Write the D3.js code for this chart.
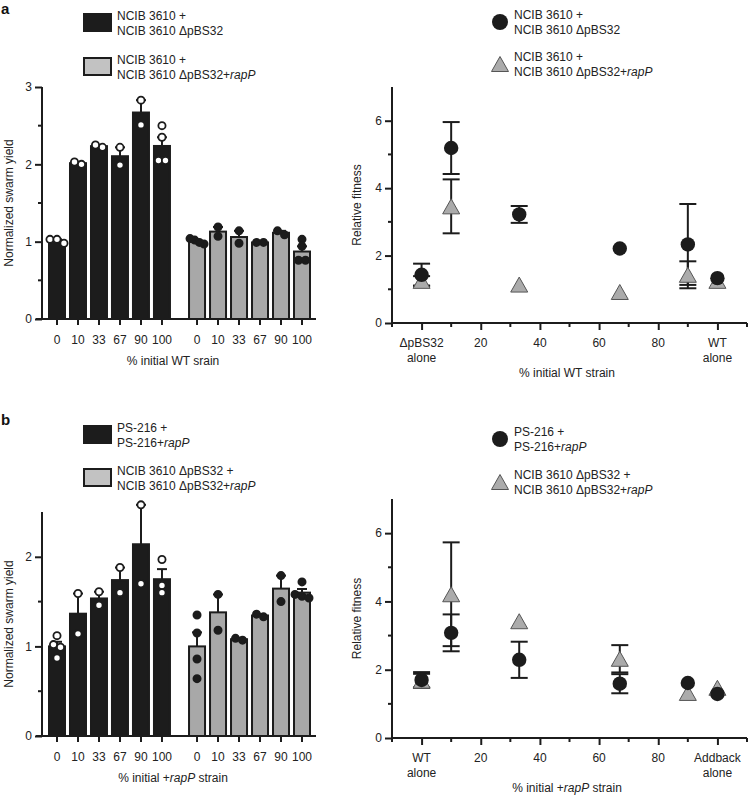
<!DOCTYPE html>
<html>
<head>
<meta charset="utf-8">
<script src="https://cdn.jsdelivr.net/npm/d3@7"></script>
<style>
  html, body { margin: 0; padding: 0; background: #fff; }
  svg { display: block; }
  text { font-family: "Liberation Sans", Arial, Helvetica, sans-serif; fill: #222; }
</style>
</head>
<body>
<svg id="chart" width="748" height="799"></svg>
<script>
// ---------------- DATA ----------------
const barCategories = ["0", "10", "33", "67", "90", "100"];

// panel a, left: normalized swarm yield (replicate points)
const aBlackPoints = [[1.03, 0.98, 1.03], [2.0, 2.03], [2.22, 2.25], [2.22, 1.99], [2.83, 2.51], [2.50, 2.35, 2.05, 2.05]];
const aGrayPoints  = [[1.02, 0.97, 0.99, 1.04], [1.19, 1.07], [1.14, 0.98], [0.99, 0.99], [1.09, 1.14], [1.03, 0.94, 0.76, 0.76]];
// panel b, left
const bBlackPoints = [[1.12, 1.02, 0.99, 0.87], [1.59, 1.14], [1.61, 1.46], [1.88, 1.60], [2.58, 1.70], [1.97, 1.68, 1.60]];
const bGrayPoints  = [[1.35, 1.15, 0.86, 0.64], [1.58, 1.18], [1.07, 1.09], [1.33, 1.36], [1.79, 1.50], [1.72, 1.58, 1.56, 1.54]];

const aBarTicks = [0, 1, 2, 3];
const bBarTicks = [0, 1, 2];

// right panels: relative fitness (mean, error; 0 = error bar hidden within symbol)
const fitnessX = [0, 10, 33, 67, 90, 100];
const aCircleMean = [1.43, 5.19, 3.22, 2.21, 2.33, 1.33];
const aCircleErr  = [0.33, 0.77, 0.25, 0, 1.20, 0];
const aTriMean    = [1.25, 3.46, 1.14, 0.92, 1.43, 1.25];
const aTriErr     = [0.14, 0.80, 0, 0, 0.40, 0];

const bCircleMean = [1.70, 3.08, 2.29, 1.59, 1.61, 1.29];
const bCircleErr  = [0.23, 0.54, 0.53, 0.28, 0, 0];
const bTriMean    = [1.68, 4.21, 3.42, 2.32, 1.32, 1.47];
const bTriErr     = [0.20, 1.52, 0, 0.40, 0, 0];

const fitnessYTicks = [0, 2, 4, 6];
const fitnessXTicks = [0, 20, 40, 60, 80, 100];
const aEndLabels = [["\u0394pBS32", "alone"], ["WT", "alone"]];
const bEndLabels = [["WT", "alone"], ["Addback", "alone"]];

// ---------------- DRAW ----------------
const svg = d3.select("#chart");
const INK = "#1c1c1c";
const BAR_GRAY = "#a8a8a8";
const LEG_GRAY = "#c2c2c2";
const TRI_GRAY = "#ababab";
const FS = "12px";

function richText(sel, parts) {
  parts.forEach(p => {
    const t = sel.append("tspan").text(p[0]);
    if (p[1]) t.style("font-style", "italic");
  });
}

function panelLabel(txt, y) {
  svg.append("text").attr("x", 1).attr("y", y).text(txt)
    .style("font-size", "15px").style("font-weight", "bold").style("fill", "#111");
}

function triPath(cx, cy, w, h) {
  return `M${cx},${cy - h / 2}L${cx + w / 2},${cy + h / 2}L${cx - w / 2},${cy + h / 2}Z`;
}

function barLegend(top, entries) {
  const g = svg.append("g");
  entries.forEach(e => {
    const y0 = top + e.dy;
    g.append("rect").attr("x", 84).attr("y", y0).attr("width", 27).attr("height", 17)
      .attr("fill", e.fill).attr("stroke", INK).attr("stroke-width", 2);
    e.lines.forEach((ln, j) => {
      const t = g.append("text").attr("x", 117).attr("y", y0 + 6 + j * 14.5).style("font-size", FS);
      richText(t, ln);
    });
  });
}

function markerLegend(top, entries) {
  const g = svg.append("g");
  entries.forEach(e => {
    const cy = top + e.dy;
    if (e.shape === "circle") {
      g.append("circle").attr("cx", 500).attr("cy", cy).attr("r", 8).attr("fill", INK);
    } else {
      g.append("path").attr("d", triPath(500, cy, 17, 15)).attr("fill", TRI_GRAY)
        .attr("stroke", "#555").attr("stroke-width", 1);
    }
    e.lines.forEach((ln, j) => {
      const t = g.append("text").attr("x", 514).attr("y", cy - 3 + j * 14.5).style("font-size", FS);
      richText(t, ln);
    });
  });
}

function swarmOffsets(vals, y) {
  const idx = vals.map((v, i) => i).sort((a, b) => vals[b] - vals[a]);
  const groups = [];
  idx.forEach(i => {
    const last = groups[groups.length - 1];
    if (last && Math.abs(y(vals[last[last.length - 1]]) - y(vals[i])) < 6.5) last.push(i);
    else groups.push([i]);
  });
  const off = new Array(vals.length).fill(0);
  groups.forEach(gr => {
    const k = gr.length;
    const step = k > 1 ? Math.min(7, 14 / (k - 1)) : 0;
    gr.forEach((i, j) => { off[i] = (j - (k - 1) / 2) * step; });
  });
  return off;
}

function styleYAxis(ya, y0, yTop) {
  ya.select(".domain").attr("stroke", INK).attr("stroke-width", 2).attr("d", `M0,${y0}V${yTop}`);
  ya.selectAll(".tick line").attr("stroke", INK).attr("stroke-width", 2);
  ya.selectAll(".tick text").attr("x", -10).style("font-size", FS)
    .style("font-family", "Liberation Sans, Arial, sans-serif").attr("fill", "#222");
}

function barPanel(cfg) {
  const g = svg.append("g");
  const x = d3.scaleLinear().domain([0, 11.67]).range([57, 302]);
  const y = d3.scaleLinear().domain([0, cfg.yMax]).range([cfg.y0, cfg.yTop]);
  const groups = [
    { pts: cfg.black, offset: 0, fill: INK, ptFill: "#fff" },
    { pts: cfg.gray, offset: 6.67, fill: BAR_GRAY, ptFill: INK }
  ];
  const bw = 16;
  groups.forEach(gr => {
    gr.pts.forEach((pts, i) => {
      const cx = x(i + gr.offset);
      const m = d3.mean(pts);
      const sem = d3.deviation(pts) / Math.sqrt(pts.length);
      g.append("line").attr("x1", cx).attr("x2", cx).attr("y1", y(m)).attr("y2", y(m + sem))
        .attr("stroke", INK).attr("stroke-width", 2);
      g.append("line").attr("x1", cx - 5).attr("x2", cx + 5).attr("y1", y(m + sem)).attr("y2", y(m + sem))
        .attr("stroke", INK).attr("stroke-width", 2);
      g.append("rect").attr("x", cx - bw / 2).attr("y", y(m)).attr("width", bw).attr("height", y(0) - y(m))
        .attr("fill", gr.fill).attr("stroke", INK).attr("stroke-width", 2);
      const off = swarmOffsets(pts, y);
      pts.forEach((v, j) => {
        g.append("circle").attr("cx", cx + off[j]).attr("cy", y(v)).attr("r", 3.6)
          .attr("fill", gr.ptFill).attr("stroke", INK).attr("stroke-width", 1.8);
      });
      g.append("line").attr("x1", cx).attr("x2", cx).attr("y1", cfg.y0).attr("y2", cfg.y0 + 6)
        .attr("stroke", INK).attr("stroke-width", 2);
      g.append("text").attr("x", cx).attr("y", cfg.y0 + 25).attr("text-anchor", "middle")
        .style("font-size", FS).text(barCategories[i]);
    });
  });
  g.append("line").attr("x1", 36).attr("x2", 316).attr("y1", cfg.y0).attr("y2", cfg.y0)
    .attr("stroke", INK).attr("stroke-width", 2);
  const ya = g.append("g").attr("transform", "translate(42,0)")
    .call(d3.axisLeft(y).tickValues(cfg.yTicks).tickSize(7).tickFormat(d3.format("d")));
  styleYAxis(ya, cfg.y0, cfg.yTop);
  d3.range(0.5, cfg.yMax, 1).forEach(v => {
    g.append("line").attr("x1", 38).attr("x2", 42).attr("y1", y(v)).attr("y2", y(v))
      .attr("stroke", INK).attr("stroke-width", 2);
  });
  const tt = g.append("text").attr("x", 173).attr("y", cfg.y0 + 46).attr("text-anchor", "middle")
    .style("font-size", FS);
  richText(tt, cfg.xTitle);
  g.append("text").attr("transform", `translate(13,${(cfg.y0 + cfg.yTop) / 2}) rotate(-90)`)
    .attr("text-anchor", "middle").style("font-size", FS).text("Normalized swarm yield");
}

function fitnessPanel(cfg) {
  const g = svg.append("g");
  const x = d3.scaleLinear().domain([-10, 110]).range([392, 747]);
  const y = d3.scaleLinear().domain([0, 7]).range([cfg.y0, cfg.yTop]);
  const xa = g.append("g").attr("transform", `translate(0,${cfg.y0})`)
    .call(d3.axisBottom(x).tickValues(fitnessXTicks).tickSize(7).tickFormat(""));
  xa.select(".domain").attr("stroke", INK).attr("stroke-width", 2).attr("d", `M${x(-10)},0H${x(110)}`);
  xa.selectAll(".tick line").attr("stroke", INK).attr("stroke-width", 2);
  d3.range(-10, 111, 20).forEach(v => {
    g.append("line").attr("x1", x(v)).attr("x2", x(v)).attr("y1", cfg.y0).attr("y2", cfg.y0 + 4)
      .attr("stroke", INK).attr("stroke-width", 2);
  });
  fitnessXTicks.forEach(v => {
    let lines;
    if (v === 0) lines = cfg.endLabels[0];
    else if (v === 100) lines = cfg.endLabels[1];
    else lines = [String(v)];
    lines.forEach((ln, j) => {
      g.append("text").attr("x", x(v)).attr("y", cfg.y0 + 24 + j * 15).attr("text-anchor", "middle")
        .style("font-size", FS).text(ln);
    });
  });
  const ya = g.append("g").attr("transform", "translate(392,0)")
    .call(d3.axisLeft(y).tickValues(fitnessYTicks).tickSize(7).tickFormat(d3.format("d")));
  styleYAxis(ya, cfg.y0, cfg.yTop);
  [1, 3, 5].forEach(v => {
    g.append("line").attr("x1", 388).attr("x2", 392).attr("y1", y(v)).attr("y2", y(v))
      .attr("stroke", INK).attr("stroke-width", 2);
  });
  function errBars(means, errs) {
    means.forEach((m, i) => {
      const e = errs[i];
      if (!e) return;
      const cx = x(fitnessX[i]);
      g.append("line").attr("x1", cx).attr("x2", cx).attr("y1", y(m - e)).attr("y2", y(m + e))
        .attr("stroke", INK).attr("stroke-width", 2);
      [m - e, m + e].forEach(v => {
        g.append("line").attr("x1", cx - 8.5).attr("x2", cx + 8.5).attr("y1", y(v)).attr("y2", y(v))
          .attr("stroke", INK).attr("stroke-width", 2);
      });
    });
  }
  errBars(cfg.triMean, cfg.triErr);
  errBars(cfg.circMean, cfg.circErr);
  cfg.triMean.forEach((m, i) => {
    g.append("path").attr("d", triPath(x(fitnessX[i]), y(m), 17, 15)).attr("fill", TRI_GRAY)
      .attr("stroke", "#555").attr("stroke-width", 1);
  });
  cfg.circMean.forEach((m, i) => {
    g.append("circle").attr("cx", x(fitnessX[i])).attr("cy", y(m)).attr("r", 7.2).attr("fill", INK);
  });
  const tt = g.append("text").attr("x", 567).attr("y", cfg.y0 + 54).attr("text-anchor", "middle")
    .style("font-size", FS);
  richText(tt, cfg.xTitle);
  g.append("text").attr("transform", `translate(361,${(cfg.y0 + cfg.yTop) / 2}) rotate(-90)`)
    .attr("text-anchor", "middle").style("font-size", FS).text("Relative fitness");
}

// ----- panel a -----
panelLabel("a", 14);
barLegend(14, [
  { dy: 0, fill: INK, lines: [[["NCIB 3610 +"]], [["NCIB 3610 \u0394pBS32"]]] },
  { dy: 44, fill: LEG_GRAY, lines: [[["NCIB 3610 +"]], [["NCIB 3610 \u0394pBS32+"], ["rapP", true]]] }
]);
barPanel({ black: aBlackPoints, gray: aGrayPoints, yMax: 3, y0: 319, yTop: 87, yTicks: aBarTicks,
  xTitle: [["% initial WT srain"]] });
markerLegend(22, [
  { dy: 0, shape: "circle", lines: [[["NCIB 3610 +"]], [["NCIB 3610 \u0394pBS32"]]] },
  { dy: 42, shape: "tri", lines: [[["NCIB 3610 +"]], [["NCIB 3610 \u0394pBS32+"], ["rapP", true]]] }
]);
fitnessPanel({ y0: 323, yTop: 87, circMean: aCircleMean, circErr: aCircleErr, triMean: aTriMean, triErr: aTriErr,
  endLabels: aEndLabels, xTitle: [["% initial WT strain"]] });

// ----- panel b -----
panelLabel("b", 425);
barLegend(426, [
  { dy: 0, fill: INK, lines: [[["PS-216 +"]], [["PS-216+"], ["rapP", true]]] },
  { dy: 43, fill: LEG_GRAY, lines: [[["NCIB 3610 \u0394pBS32 +"]], [["NCIB 3610 \u0394pBS32+"], ["rapP", true]]] }
]);
barPanel({ black: bBlackPoints, gray: bGrayPoints, yMax: 2.5, y0: 736, yTop: 512, yTicks: bBarTicks,
  xTitle: [["% initial +"], ["rapP", true], [" strain"]] });
markerLegend(439, [
  { dy: 0, shape: "circle", lines: [[["PS-216 +"]], [["PS-216+"], ["rapP", true]]] },
  { dy: 43, shape: "tri", lines: [[["NCIB 3610 \u0394pBS32 +"]], [["NCIB 3610 \u0394pBS32+"], ["rapP", true]]] }
]);
fitnessPanel({ y0: 738, yTop: 499, circMean: bCircleMean, circErr: bCircleErr, triMean: bTriMean, triErr: bTriErr,
  endLabels: bEndLabels, xTitle: [["% initial +"], ["rapP", true], [" strain"]] });
</script>
</body>
</html>
